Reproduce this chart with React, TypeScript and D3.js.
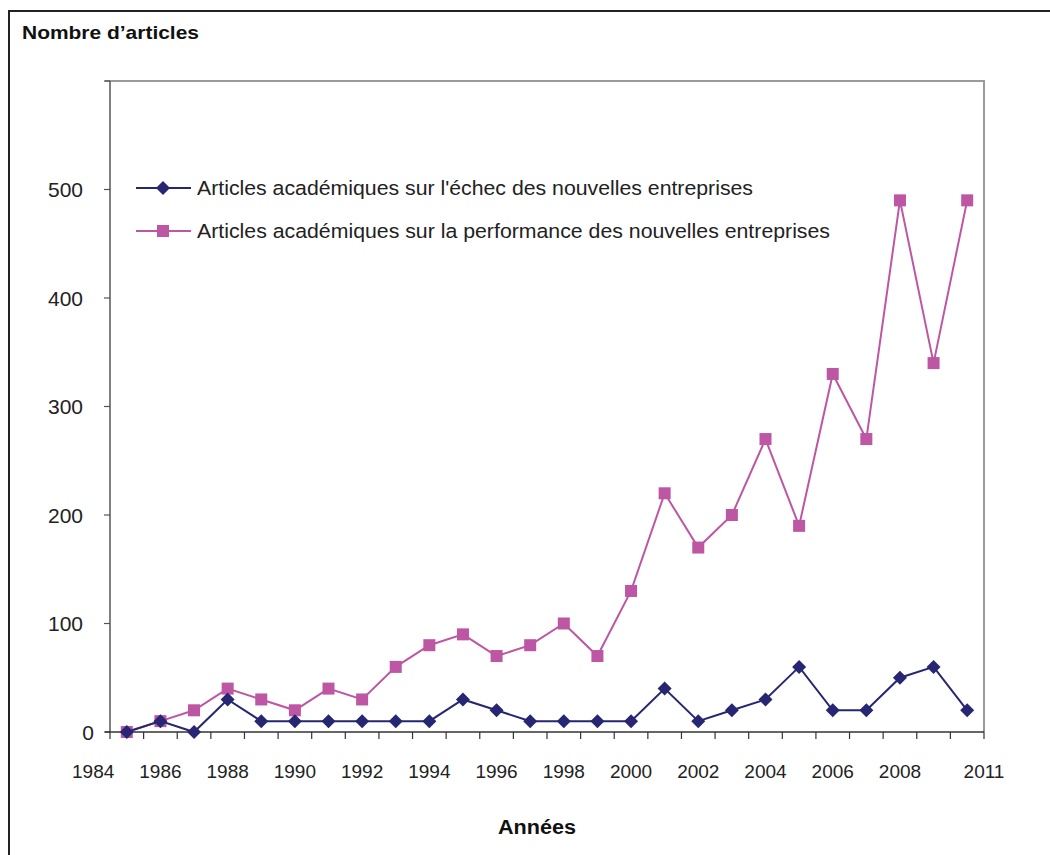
import * as React from "react";
import * as d3 from "d3";

const years = [1985, 1986, 1987, 1988, 1989, 1990, 1991, 1992, 1993, 1994, 1995, 1996, 1997,
  1998, 1999, 2000, 2001, 2002, 2003, 2004, 2005, 2006, 2007, 2008, 2009, 2010];
const echec = [0, 10, 0, 30, 10, 10, 10, 10, 10, 10, 30, 20, 10, 10, 10, 10, 40, 10, 20, 30, 60, 20, 20, 50, 60, 20];
const performance = [0, 10, 20, 40, 30, 20, 40, 30, 60, 80, 90, 70, 80, 100, 70, 130, 220, 170, 200, 270, 190, 330, 270, 490, 340, 490];
const yTicks = [0, 100, 200, 300, 400, 500];
const xLabels = ["1984", "1986", "1988", "1990", "1992", "1994", "1996", "1998", "2000", "2002", "2004", "2006", "2008", "2011"];
const seriesNames = [
  "Articles académiques sur l'échec des nouvelles entreprises",
  "Articles académiques sur la performance des nouvelles entreprises",
];

const NAVY = "#262673";
const PINK = "#BD56A3";
const FONT = "'Liberation Sans', Arial, sans-serif";

export default function App() {
  const svgRef = React.useRef<SVGSVGElement>(null);

  React.useEffect(() => {
    if (!svgRef.current) return;
    const svg = d3.select(svgRef.current);
    svg.selectAll("*").remove();

    const W = 1050, H = 855;
    const plot = { left: 110, right: 984, top: 81, bottom: 732 };

    // outer frame (only top/left edges are visible in the crop)
    svg.append("rect")
      .attr("x", 9).attr("y", 11)
      .attr("width", W + 20).attr("height", H + 20)
      .attr("fill", "white").attr("stroke", "#222").attr("stroke-width", 2);

    // category axis: each year takes one slot, points in the middle
    const x = d3.scaleLinear().domain([1984.5, 2010.5]).range([plot.left, plot.right]);
    const y = d3.scaleLinear().domain([0, 600]).range([plot.bottom, plot.top]);

    // plot border (top + right)
    svg.append("path")
      .attr("d", `M${plot.left - 5},${plot.top}H${plot.right}V${plot.bottom}`)
      .attr("fill", "none").attr("stroke", "#9a9a9a").attr("stroke-width", 2);

    // y axis
    svg.append("line")
      .attr("x1", plot.left).attr("x2", plot.left)
      .attr("y1", plot.top).attr("y2", plot.bottom)
      .attr("stroke", "#555").attr("stroke-width", 1.5);
    const yg = svg.append("g");
    yg.selectAll("line").data(yTicks.concat([600])).enter().append("line")
      .attr("x1", plot.left - 6).attr("x2", plot.left)
      .attr("y1", d => y(d)).attr("y2", d => y(d))
      .attr("stroke", "#555").attr("stroke-width", 1.2);
    yg.selectAll("text").data(yTicks).enter().append("text")
      .attr("x", d => d === 0 ? 94 : 83)
      .attr("y", d => y(d))
      .attr("dy", "0.36em")
      .attr("text-anchor", "end")
      .attr("font-family", FONT).attr("font-size", 21)
      .attr("fill", "#222")
      .text(d => String(d));

    // x axis
    svg.append("line")
      .attr("x1", plot.left - 5).attr("x2", plot.right)
      .attr("y1", plot.bottom).attr("y2", plot.bottom)
      .attr("stroke", "#333").attr("stroke-width", 1.5);
    const slotEdges = d3.range(1984.5, 2011.5, 1);
    svg.append("g").selectAll("line").data(slotEdges).enter().append("line")
      .attr("x1", d => x(d)).attr("x2", d => x(d))
      .attr("y1", plot.bottom).attr("y2", plot.bottom + 7)
      .attr("stroke", "#333").attr("stroke-width", 1.2);
    svg.append("g").selectAll("text").data(xLabels).enter().append("text")
      .attr("x", d => d === "2011" ? x(2010.5) : x(+d))
      .attr("y", 778)
      .attr("text-anchor", "middle")
      .attr("font-family", FONT).attr("font-size", 19)
      .attr("fill", "#222")
      .text(d => d);

    // axis titles
    svg.append("text")
      .attr("x", 22).attr("y", 39)
      .attr("font-family", FONT).attr("font-size", 18.5).attr("font-weight", "bold")
      .attr("fill", "#111")
      .attr("textLength", 177).attr("lengthAdjust", "spacingAndGlyphs")
      .text("Nombre d\u2019articles");
    svg.append("text")
      .attr("x", 498).attr("y", 834)
      .attr("font-family", FONT).attr("font-size", 19.5).attr("font-weight", "bold")
      .attr("fill", "#111")
      .attr("textLength", 78).attr("lengthAdjust", "spacingAndGlyphs")
      .text("Années");

    const line = d3.line<number>()
      .x((_, i) => x(years[i]))
      .y(d => y(d));

    // performance series
    svg.append("path").datum(performance)
      .attr("d", line).attr("fill", "none")
      .attr("stroke", PINK).attr("stroke-width", 2);
    svg.append("g").selectAll("rect").data(performance).enter().append("rect")
      .attr("x", (_, i) => x(years[i]) - 6)
      .attr("y", d => y(d) - 6)
      .attr("width", 12).attr("height", 12)
      .attr("fill", PINK);

    // echec series
    const diamond = (cx: number, cy: number, r: number) =>
      `M${cx},${cy - r}L${cx + r},${cy}L${cx},${cy + r}L${cx - r},${cy}Z`;
    svg.append("path").datum(echec)
      .attr("d", line).attr("fill", "none")
      .attr("stroke", NAVY).attr("stroke-width", 2);
    svg.append("g").selectAll("path").data(echec).enter().append("path")
      .attr("d", (d, i) => diamond(x(years[i]), y(d), 7))
      .attr("fill", NAVY);

    // legend
    const legend = svg.append("g");
    const legY = [188, 231];
    const legLen = [556, 633];
    legend.append("line")
      .attr("x1", 136).attr("x2", 191).attr("y1", legY[0]).attr("y2", legY[0])
      .attr("stroke", NAVY).attr("stroke-width", 2);
    legend.append("path").attr("d", diamond(163, legY[0], 7)).attr("fill", NAVY);
    legend.append("line")
      .attr("x1", 136).attr("x2", 191).attr("y1", legY[1]).attr("y2", legY[1])
      .attr("stroke", PINK).attr("stroke-width", 2);
    legend.append("rect")
      .attr("x", 157).attr("y", legY[1] - 6).attr("width", 12).attr("height", 12)
      .attr("fill", PINK);
    legend.selectAll("text").data(seriesNames).enter().append("text")
      .attr("x", 197).attr("y", (_, i) => legY[i])
      .attr("dy", "0.36em")
      .attr("font-family", FONT).attr("font-size", 20.5)
      .attr("fill", "#222")
      .attr("textLength", (_, i) => legLen[i]).attr("lengthAdjust", "spacingAndGlyphs")
      .text(d => d);
  }, []);

  return (
    <svg
      ref={svgRef}
      width={1050}
      height={855}
      style={{ position: "absolute", left: 0, top: 0, background: "white" }}
    />
  );
}
